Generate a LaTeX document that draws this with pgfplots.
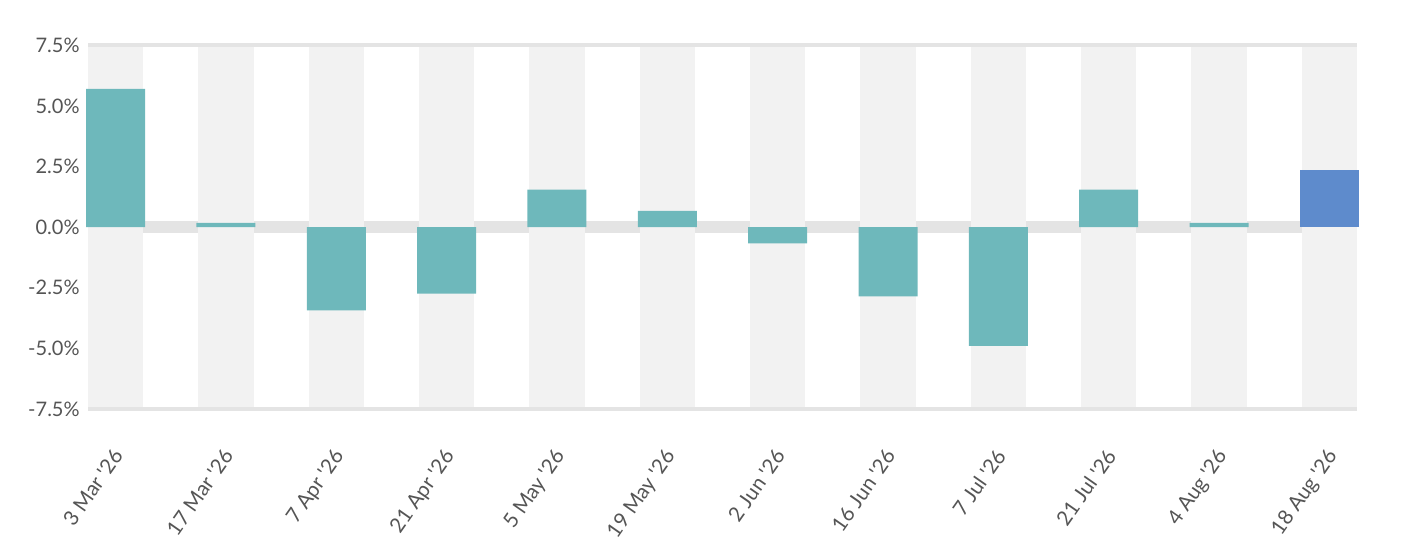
\documentclass[border=0pt]{standalone}
\usepackage{pgfplots}
\pgfplotsset{compat=1.18}
\usepackage{fontspec}
\setmainfont{Lato}
\definecolor{barteal}{HTML}{6EB8BB}
\definecolor{barblue}{HTML}{5E8BCC}
\definecolor{colgray}{HTML}{F2F2F2}
\definecolor{zerogray}{HTML}{E4E4E4}
\definecolor{linegray}{HTML}{E4E4E4}
\definecolor{labelgray}{HTML}{555555}
\begin{document}
\begin{tikzpicture}
\begin{axis}[
  scale only axis, width=634.5pt, height=181.85pt,
  xmin=-0.25, xmax=11.25, ymin=-7.5, ymax=7.5,
  axis line style={draw=none},
  tick style={draw=none},
  clip=false,
  xtick={0,...,11},
  xticklabels={3 Mar \textquotesingle26, 17 Mar \textquotesingle26, 7 Apr \textquotesingle26, 21 Apr \textquotesingle26, 5 May \textquotesingle26, 19 May \textquotesingle26, 2 Jun \textquotesingle26, 16 Jun \textquotesingle26, 7 Jul \textquotesingle26, 21 Jul \textquotesingle26, 4 Aug \textquotesingle26, 18 Aug \textquotesingle26},
  ytick={-7.5,-5,-2.5,0,2.5,5,7.5},
  yticklabels={-7.5\%,-5.0\%,-2.5\%,0.0\%,2.5\%,5.0\%,7.5\%},
  tick label style={font=\fontsize{10}{12}\selectfont, text=labelgray},
  xticklabel style={anchor=north east, inner sep=0pt, yshift=-19pt, xshift=-2pt, rotate=55, font=\fontsize{10.3}{12}\selectfont},
  yticklabel style={anchor=east, inner sep=0pt, xshift=-4pt},
]
\coordinate (bl) at (rel axis cs:0,0);
% zero band
\addplot[zerogray, line width=5.9pt, forget plot] coordinates {(-0.25,0) (11.25,0)};
% background columns
\addplot[colgray, line width=27.6pt, unbounded coords=jump, forget plot] coordinates {
(0,-7.5) (0,7.5) (0.5,nan)
(1,-7.5) (1,7.5) (1.5,nan)
(2,-7.5) (2,7.5) (2.5,nan)
(3,-7.5) (3,7.5) (3.5,nan)
(4,-7.5) (4,7.5) (4.5,nan)
(5,-7.5) (5,7.5) (5.5,nan)
(6,-7.5) (6,7.5) (6.5,nan)
(7,-7.5) (7,7.5) (7.5,nan)
(8,-7.5) (8,7.5) (8.5,nan)
(9,-7.5) (9,7.5) (9.5,nan)
(10,-7.5) (10,7.5) (10.5,nan)
(11,-7.5) (11,7.5)
};
% top and bottom lines
\addplot[linegray, line width=1.8pt, forget plot] coordinates {(-0.25,7.5) (11.25,7.5)};
\addplot[linegray, line width=1.8pt, forget plot] coordinates {(-0.25,-7.5) (11.25,-7.5)};
% bars
\addplot[ybar, bar width=29.5pt, bar shift=0pt, fill=barteal, draw=none] coordinates {
(0,5.70) (1,0.18) (2,-3.43) (3,-2.74) (4,1.55) (5,0.67) (6,-0.67) (7,-2.86) (8,-4.90) (9,1.55) (10,0.18)
};
\addplot[ybar, bar width=29.5pt, bar shift=0pt, fill=barblue, draw=none] coordinates {(11,2.35)};
\end{axis}
\pgfresetboundingbox
\path[use as bounding box] (bl) ++(-44pt,-73.5pt) rectangle ++(702pt,278pt);
\end{tikzpicture}
\end{document}
